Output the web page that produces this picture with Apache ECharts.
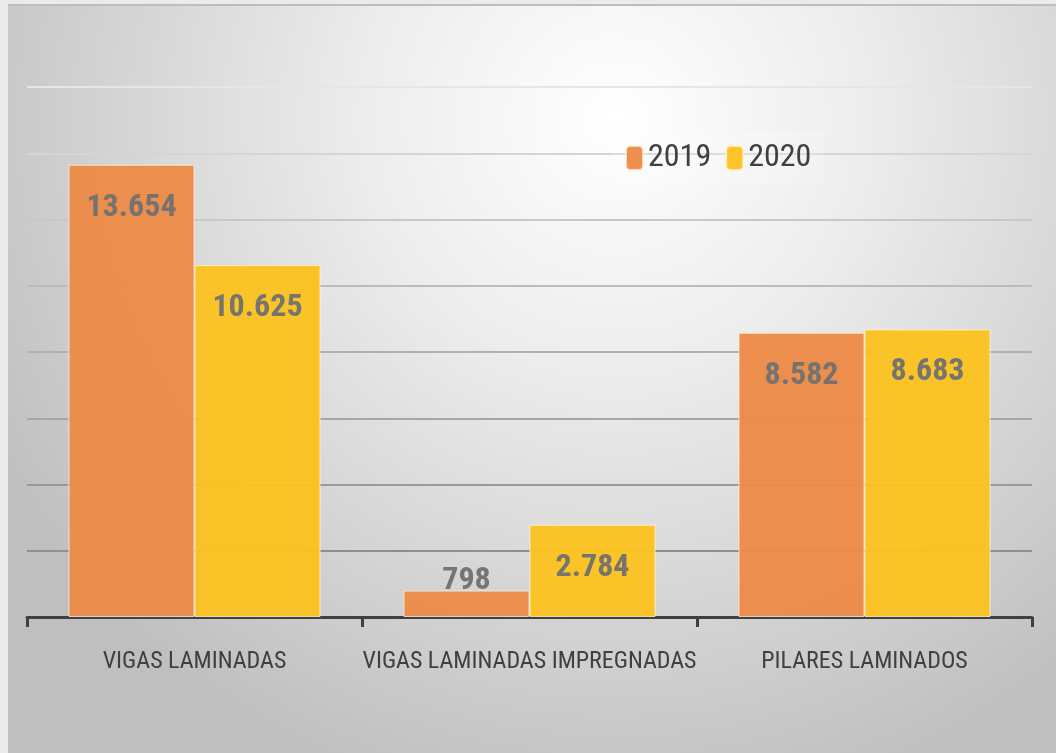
<!DOCTYPE html>
<html>
<head>
<meta charset="utf-8">
<script src="https://cdn.jsdelivr.net/npm/echarts@6/dist/echarts.min.js"></script>
<style>
  html, body { margin: 0; padding: 0; background: #ebebeb; }
  #container { position: absolute; left: 8px; top: 4px; width: 1048px; height: 749px; border-top: 2px solid #bdbdbd; box-sizing: border-box; }
</style>
</head>
<body>
<div id="container"></div>
<script>
var categories = ['VIGAS LAMINADAS', 'VIGAS LAMINADAS IMPREGNADAS', 'PILARES LAMINADOS'];
var values2019 = [13654, 798, 8582];
var values2020 = [10625, 2784, 8683];
var seriesNames = ['2019', '2020'];

window.onload = function() {

var chartDom = document.getElementById('container');
var myChart = echarts.init(chartDom);
var option;

var fontName = '"Liberation Sans Narrow", "Roboto Condensed", "DejaVu Sans Condensed", sans-serif';

function fmt(v) {
  return String(v).replace(/\B(?=(\d{3})+(?!\d))/g, '.');
}

function labelFor(values) {
  return values.map(function (v) {
    // small bars: the label sits just above the bar
    if (v < 1500) {
      return { value: v, label: { position: 'top', distance: -6 } };
    }
    return v;
  });
}

var valueLabel = {
  show: true,
  position: 'insideTop',
  distance: 27,
  color: '#707070',
  fontFamily: fontName,
  fontWeight: 'bold',
  fontSize: 32,
  formatter: function (p) { return fmt(p.value); }
};

option = {
  backgroundColor: new echarts.graphic.RadialGradient(0.58, 0.15, 0.95, [
    { offset: 0, color: '#ffffff' },
    { offset: 0.35, color: '#ededed' },
    { offset: 1, color: '#bfbfbf' }
  ]),
  textStyle: { fontFamily: fontName },
  legend: {
    data: seriesNames,
    left: 605,
    top: 126,
    itemWidth: 17,
    itemHeight: 24,
    itemGap: 14,
    padding: [10, 12, 10, 12],
    backgroundColor: 'rgba(255,255,255,0.2)',
    textStyle: { fontSize: 32, color: '#404040', fontFamily: fontName }
  },
  grid: {
    left: 19,
    right: 24,
    top: 81,
    bottom: 136,
    containLabel: false
  },
  xAxis: {
    type: 'category',
    data: categories,
    axisLine: { lineStyle: { color: '#404040', width: 3 } },
    axisTick: { show: true, interval: 0, length: 10, lineStyle: { color: '#404040', width: 3 } },
    axisLabel: { interval: 0, color: '#404040', fontSize: 24, margin: 33, fontFamily: fontName }
  },
  yAxis: {
    type: 'value',
    min: 0,
    max: 16000,
    interval: 2000,
    axisLabel: { show: false },
    axisLine: { show: false },
    axisTick: { show: false },
    splitLine: {
      lineStyle: {
        width: 2,
        color: ['#8f8f8f', '#8f8f8f', '#9a9a9a', '#a6a6a6', '#b0b0b0', '#bcbcbc', '#c8c8c8', '#d5d5d5', '#e6e6e6']
      }
    }
  },
  series: [
    {
      name: seriesNames[0],
      type: 'bar',
      data: labelFor(values2019),
      barWidth: 126,
      barGap: '0%',
      itemStyle: { color: '#eb8a48', opacity: 0.96, borderColor: 'rgba(255,240,225,0.8)', borderWidth: 1 },
      label: valueLabel
    },
    {
      name: seriesNames[1],
      type: 'bar',
      data: labelFor(values2020),
      barWidth: 126,
      barGap: '0%',
      itemStyle: { color: '#fbc320', opacity: 0.96, borderColor: 'rgba(255,245,215,0.8)', borderWidth: 1 },
      label: valueLabel
    }
  ]
};

option && myChart.setOption(option);

}
</script>
</body>
</html>
